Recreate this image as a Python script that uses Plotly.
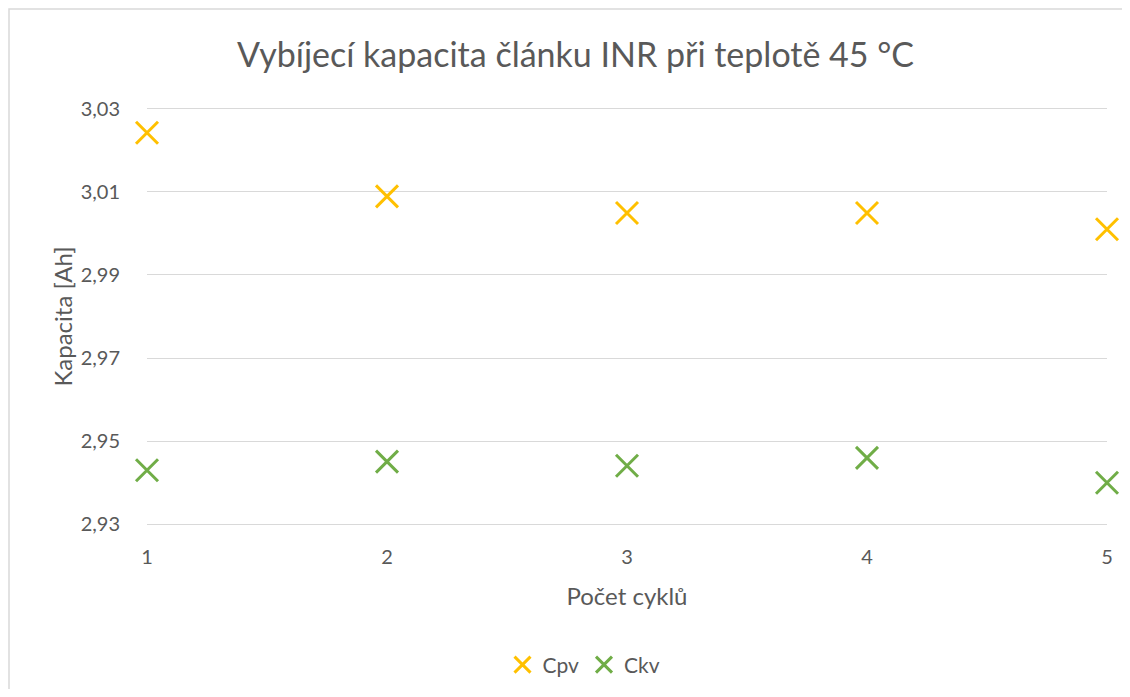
import plotly.graph_objects as go

cycles = [1, 2, 3, 4, 5]
cpv = [3.0242, 3.0089, 3.0049, 3.0049, 3.0010]
ckv = [2.9430, 2.9451, 2.9441, 2.9460, 2.9400]
y_ticks = [2.93, 2.95, 2.97, 2.99, 3.01, 3.03]
y_tick_labels = ["2,93", "2,95", "2,97", "2,99", "3,01", "3,03"]

FONT = "Lato, 'Open Sans', sans-serif"
TXT = "#595959"

fig = go.Figure()
fig.add_trace(go.Scatter(x=cycles, y=cpv, mode="markers", name="Cpv", cliponaxis=False,
                         marker=dict(symbol="x-thin-open", size=22, color="#FFC000",
                                     line=dict(width=3, color="#FFC000"))))
fig.add_trace(go.Scatter(x=cycles, y=ckv, mode="markers", name="Ckv", cliponaxis=False,
                         marker=dict(symbol="x-thin-open", size=22, color="#70AD47",
                                     line=dict(width=3, color="#70AD47"))))

# page body has an 8px margin
W, H = 1114, 681
L, T = 139, 99
pw, ph = 960, 419
R = W - L - pw
B = H - T - ph

fig.update_layout(
    width=W, height=H,
    margin=dict(l=L, r=R, t=T, b=B, autoexpand=False),
    paper_bgcolor="white", plot_bgcolor="white",
    font=dict(family=FONT, color=TXT, size=21),
    title=dict(text="Vybíjecí kapacita článku INR při teplotě 45 °C",
               x=(575.5 - 8) / W, xanchor="center", y=1 - 47 / H, yanchor="middle",
               font=dict(size=34, color=TXT, family=FONT)),
    xaxis=dict(range=[1, 5], tickvals=cycles, showgrid=False, zeroline=False,
               showline=False, ticks="", ticklabelstandoff=17, automargin=False,
               title=dict(text="Počet cyklů", font=dict(size=24, color=TXT), standoff=21),
               tickfont=dict(size=20, color=TXT)),
    yaxis=dict(range=[2.9296, 3.0304], tickvals=y_ticks, ticktext=y_tick_labels,
               showgrid=True, gridcolor="#D9D9D9", gridwidth=1.3, zeroline=False,
               showline=False, ticks="", ticklabelstandoff=26, automargin=False,
               title=dict(text="Kapacita [Ah]", font=dict(size=24, color=TXT), standoff=1),
               tickfont=dict(size=20, color=TXT)),
    legend=dict(orientation="h", x=(584 - 147) / pw, xanchor="center",
                y=(T + ph - 657) / ph, yanchor="middle",
                font=dict(size=21, color=TXT), itemwidth=30, tracegroupgap=0),
    showlegend=True,
    shapes=[dict(type="rect", xref="paper", yref="paper",
                 x0=(1 - L) / pw, x1=(W + 10 - L) / pw,
                 y0=(T + ph - H - 10) / ph, y1=(T + ph - 1) / ph,
                 line=dict(color="#D9D9D9", width=1.5), fillcolor="rgba(0,0,0,0)",
                 layer="below")],
)

fig.write_html("out.html")
